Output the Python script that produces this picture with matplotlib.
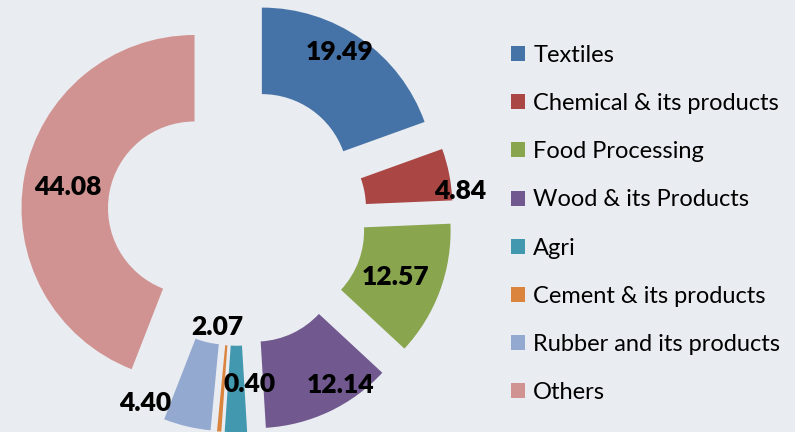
import matplotlib
matplotlib.use("Agg")
import matplotlib.pyplot as plt
import numpy as np

plt.rcParams['font.family'] = ['Lato', 'DejaVu Sans']

# data
sectors = ["Textiles", "Chemical & its products", "Food Processing", "Wood & its Products",
           "Agri", "Cement & its products", "Rubber and its products", "Others"]
shares = [19.49, 4.84, 12.57, 12.14, 2.07, 0.40, 4.40, 44.08]
colors = ["#4572A7", "#AA4643", "#89A54E", "#71588F", "#4198AF", "#DB843D", "#93A9CF", "#D19392"]

# label placement (distance from exploded centre, angle nudge in degrees)
lab_dist = [0.87, 1.05, 0.73, 0.90, 0.41, 0.73, 0.96, 0.74]
lab_nudge = [4, -6, -1, 8, -16, 12, -16, 1]

W, H = 795, 432
cx, cy, R = 237, 216, 173

fig = plt.figure(figsize=(W / 100, H / 100), dpi=100)
fig.patch.set_facecolor("#e9ecf0")
ax = fig.add_axes([0, 0, 1, 1])
ax.set_facecolor("none")

wedges, _ = ax.pie(shares, colors=colors, startangle=90, counterclock=False,
                   explode=[0.25] * len(shares), radius=1,
                   wedgeprops=dict(width=0.5, linewidth=0))

for w, val, d, dn in zip(wedges, shares, lab_dist, lab_nudge):
    th = np.deg2rad((w.theta1 + w.theta2) / 2 + dn)
    x0, y0 = w.center
    ax.text(x0 + d * np.cos(th), y0 + d * np.sin(th), "%.2f" % val,
            ha="center", va="center", fontsize=19, fontweight="heavy", color="black")

ax.set_xlim(-cx / R, (W - cx) / R)
ax.set_ylim(-(H - cy) / R, cy / R)
ax.set_aspect("auto")
ax.axis("off")

leg = ax.legend(wedges, sectors, loc="upper left", bbox_to_anchor=(511 / W, 1 - 45 / H),
                bbox_transform=fig.transFigure, frameon=False, fontsize=17,
                handlelength=0.6, handleheight=0.6, handletextpad=0.34,
                labelspacing=1.15, borderpad=0, borderaxespad=0)

fig.savefig("out.png", dpi=100, facecolor=fig.get_facecolor())
